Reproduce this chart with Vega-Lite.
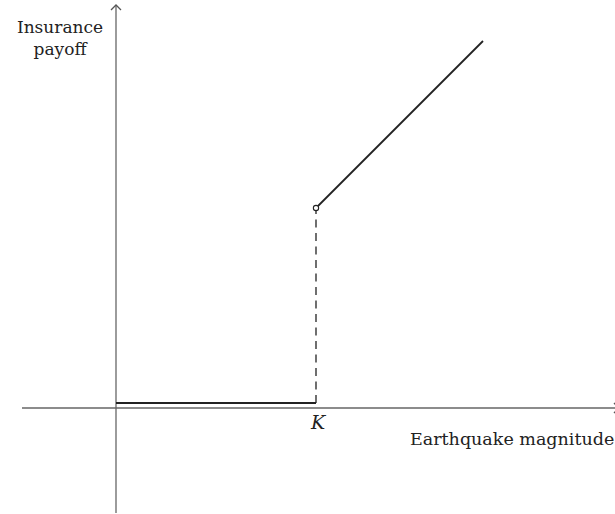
{
  "$schema": "https://vega.github.io/schema/vega-lite/v6.json",
  "width": 615,
  "height": 514,
  "padding": 0,
  "autosize": "none",
  "config": {"view": {"stroke": null}},
  "datasets": {
    "axes": [
      {"x": -1.88, "y": 0, "x2": 10.0, "y2": 0},
      {"x": 0, "y": -2.1, "x2": 0, "y2": 8.06}
    ],
    "arrows": [
      {"x": 0, "y": 8.06, "dir": "up"},
      {"x": 10.06, "y": 0, "dir": "right"}
    ],
    "payoff": [
      {"seg": "low", "x": 0, "y": 0.1},
      {"seg": "low", "x": 4, "y": 0.1},
      {"seg": "high", "x": 4, "y": 4},
      {"seg": "high", "x": 7.34, "y": 7.34}
    ],
    "jump": [{"x": 4, "y": 0.1, "y2": 4}],
    "circle": [{"x": 4, "y": 4}],
    "labels": [
      {"x": -1.12, "y": 7.6, "text": "Insurance", "kind": "title"},
      {"x": -1.12, "y": 7.16, "text": "payoff", "kind": "title"},
      {"x": 4.04, "y": -0.3, "text": "K", "kind": "k"},
      {"x": 5.88, "y": -0.64, "text": "Earthquake magnitude", "kind": "xlab"}
    ]
  },
  "layer": [
    {
      "data": {"name": "axes"},
      "mark": {"type": "rule", "color": "#666666", "strokeWidth": 1.3},
      "encoding": {
        "x": {"field": "x", "type": "quantitative", "scale": {"domain": [-2.32, 9.98], "nice": false, "zero": false}, "axis": null},
        "y": {"field": "y", "type": "quantitative", "scale": {"domain": [-2.12, 8.16], "nice": false, "zero": false}, "axis": null},
        "x2": {"field": "x2"},
        "y2": {"field": "y2"}
      }
    },
    {
      "data": {"name": "arrows"},
      "transform": [{"filter": "datum.dir == 'up'"}],
      "mark": {"type": "point", "shape": "M-1,1L0,0L1,1", "size": 100, "filled": false, "stroke": "#555555", "strokeWidth": 1.3, "opacity": 1},
      "encoding": {
        "x": {"field": "x", "type": "quantitative"},
        "y": {"field": "y", "type": "quantitative"}
      }
    },
    {
      "data": {"name": "arrows"},
      "transform": [{"filter": "datum.dir == 'right'"}],
      "mark": {"type": "point", "shape": "M-1,-1L0,0L-1,1", "size": 100, "filled": false, "stroke": "#555555", "strokeWidth": 1.3, "opacity": 1},
      "encoding": {
        "x": {"field": "x", "type": "quantitative"},
        "y": {"field": "y", "type": "quantitative"}
      }
    },
    {
      "data": {"name": "jump"},
      "mark": {"type": "rule", "color": "#222222", "strokeWidth": 1.3, "strokeDash": [8, 5.5]},
      "encoding": {
        "x": {"field": "x", "type": "quantitative"},
        "y": {"field": "y", "type": "quantitative"},
        "y2": {"field": "y2"}
      }
    },
    {
      "data": {"name": "payoff"},
      "mark": {"type": "line", "color": "#222222", "strokeWidth": 1.8},
      "encoding": {
        "x": {"field": "x", "type": "quantitative"},
        "y": {"field": "y", "type": "quantitative"},
        "detail": {"field": "seg"}
      }
    },
    {
      "data": {"name": "circle"},
      "mark": {"type": "point", "shape": "circle", "size": 28, "filled": true, "fill": "white", "stroke": "#222222", "strokeWidth": 1.1, "opacity": 1},
      "encoding": {
        "x": {"field": "x", "type": "quantitative"},
        "y": {"field": "y", "type": "quantitative"}
      }
    },
    {
      "data": {"name": "labels"},
      "transform": [{"filter": "datum.kind == 'title'"}],
      "mark": {"type": "text", "font": "DejaVu Serif", "fontSize": 17, "color": "#222222", "baseline": "middle", "align": "center"},
      "encoding": {
        "x": {"field": "x", "type": "quantitative"},
        "y": {"field": "y", "type": "quantitative"},
        "text": {"field": "text"}
      }
    },
    {
      "data": {"name": "labels"},
      "transform": [{"filter": "datum.kind == 'k'"}],
      "mark": {"type": "text", "font": "DejaVu Serif", "fontSize": 19, "fontStyle": "italic", "color": "#222222", "baseline": "middle", "align": "center"},
      "encoding": {
        "x": {"field": "x", "type": "quantitative"},
        "y": {"field": "y", "type": "quantitative"},
        "text": {"field": "text"}
      }
    },
    {
      "data": {"name": "labels"},
      "transform": [{"filter": "datum.kind == 'xlab'"}],
      "mark": {"type": "text", "font": "DejaVu Serif", "fontSize": 17.5, "color": "#222222", "baseline": "middle", "align": "left"},
      "encoding": {
        "x": {"field": "x", "type": "quantitative"},
        "y": {"field": "y", "type": "quantitative"},
        "text": {"field": "text"}
      }
    }
  ]
}
